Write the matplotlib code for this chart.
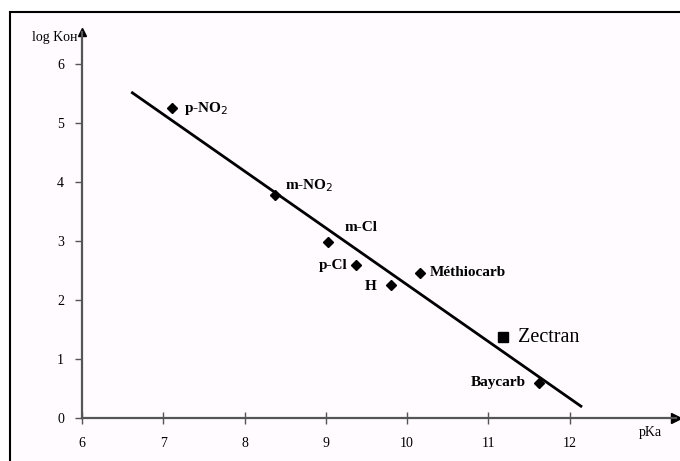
import matplotlib.pyplot as plt
from matplotlib.patches import Rectangle

# carbamates: pKa of the leaving phenol vs log K_OH
names = ['p-NO$_2$', 'm-NO$_2$', 'm-Cl', 'p-Cl', 'H', 'Méthiocarb', 'Baycarb']
pka = [7.11, 8.37, 9.03, 9.37, 9.80, 10.16, 11.63]
logk = [5.25, 3.78, 2.98, 2.59, 2.25, 2.46, 0.59]

zectran_pka = 11.18
zectran_logk = 1.37

# regression line end points
fit_pka = [6.62, 12.14]
fit_logk = [5.51, 0.20]

xticks = [6, 7, 8, 9, 10, 11, 12]
yticks = [0, 1, 2, 3, 4, 5, 6]

plt.rcParams['font.family'] = ['Liberation Serif', 'DejaVu Serif']

fig = plt.figure(figsize=(6.8, 4.61), dpi=100)
fig.patch.set_facecolor('white')
fig.patches.append(Rectangle((10 / 680, -0.1), 1.2, 1 - 12 / 461 + 0.1,
                             transform=fig.transFigure, facecolor='#fffbfe',
                             edgecolor='black', linewidth=1.5, zorder=-5))

ax = fig.add_axes([82 / 680, 43 / 461, 594 / 680, 386 / 461])
ax.set_facecolor('none')
ax.set_xlim(6, 13.31)
ax.set_ylim(0, 6.54)

for s in ['top', 'right']:
    ax.spines[s].set_visible(False)
for s in ['left', 'bottom']:
    ax.spines[s].set_color('#555555')
    ax.spines[s].set_linewidth(1.6)

ax.set_xticks(xticks)
ax.set_yticks(yticks)
ax.tick_params(axis='x', direction='inout', length=9, width=1, color='#555555',
               labelsize=10, pad=9)
ax.tick_params(axis='y', direction='out', length=5, width=1, color='#555555',
               labelsize=10, pad=8)

# arrow heads on the axes
ax.plot(1, 0, '>', color='black', markersize=7, transform=ax.transAxes, clip_on=False)
ax.plot(0, 1, '^', color='black', markersize=6, transform=ax.transAxes, clip_on=False)
ax.text(-0.008, 0.985, 'log Kон', transform=ax.transAxes, ha='right', va='center',
        fontsize=10)
ax.text(13.0, -0.24, 'pKa', ha='center', va='center', fontsize=10)

ax.plot(fit_pka, fit_logk, color='black', linewidth=2, clip_on=False)
ax.plot(pka, logk, 'D', color='black', markersize=5, clip_on=False)
ax.plot(zectran_pka, zectran_logk, 's', color='black', markersize=7)

# label offsets (pKa units, log units) and alignment
offsets = [(0.15, 0.0, 'left'), (0.13, 0.15, 'left'), (0.20, 0.24, 'left'),
           (-0.10, 0.0, 'right'), (-0.17, -0.03, 'right'), (0.12, 0.0, 'left'),
           (-0.17, 0.01, 'right')]
for n, x, y, (dx, dy, ha) in zip(names, pka, logk, offsets):
    ax.text(x + dx, y + dy, n, ha=ha, va='center', fontsize=11, fontweight='bold')

ax.text(zectran_pka + 0.18, zectran_logk, 'Zectran', ha='left', va='center', fontsize=14.5)

fig.savefig('out.png', dpi=100, facecolor=fig.get_facecolor())
